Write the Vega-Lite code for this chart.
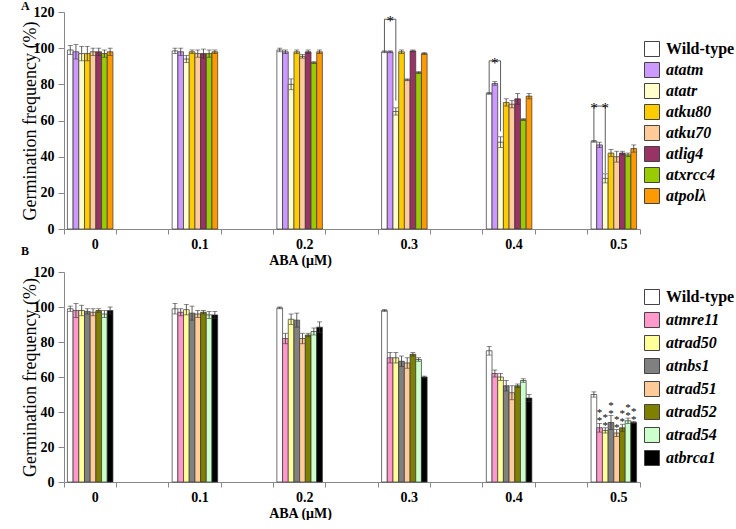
{
  "$schema": "https://vega.github.io/schema/vega-lite/v6.json",
  "padding": {"left": 21, "top": 0, "right": 0, "bottom": 0},
  "background": "white",
  "config": {
    "view": {"stroke": null},
    "font": "Liberation Serif",
    "axis": {"domainColor": "#888", "tickColor": "#888", "grid": false, "labelFont": "Liberation Serif", "labelFontWeight": "bold", "labelFontSize": 14, "labelColor": "black", "titleFont": "Liberation Serif", "titleColor": "black"},
    "axisY": {"labelOverlap": false, "tickCount": 7},
    "legend": {"labelFont": "Liberation Serif", "labelFontWeight": "bold", "labelFontSize": 16, "labelColor": "black"}
  },
  "datasets": {
    "a": [
      {"aba": "0", "geno": "Wild-type", "v": 99, "e": 2.5},
      {"aba": "0", "geno": "atatm", "v": 98, "e": 4},
      {"aba": "0", "geno": "atatr", "v": 97, "e": 4},
      {"aba": "0", "geno": "atku80", "v": 97, "e": 4},
      {"aba": "0", "geno": "atku70", "v": 98, "e": 2},
      {"aba": "0", "geno": "atlig4", "v": 98, "e": 2},
      {"aba": "0", "geno": "atxrcc4", "v": 97, "e": 2},
      {"aba": "0", "geno": "atpolλ", "v": 98, "e": 2},
      {"aba": "0.1", "geno": "Wild-type", "v": 98.5, "e": 1.5},
      {"aba": "0.1", "geno": "atatm", "v": 98, "e": 2},
      {"aba": "0.1", "geno": "atatr", "v": 94, "e": 2},
      {"aba": "0.1", "geno": "atku80", "v": 98, "e": 1},
      {"aba": "0.1", "geno": "atku70", "v": 97, "e": 2},
      {"aba": "0.1", "geno": "atlig4", "v": 97, "e": 2.5},
      {"aba": "0.1", "geno": "atxrcc4", "v": 97, "e": 2},
      {"aba": "0.1", "geno": "atpolλ", "v": 98, "e": 1},
      {"aba": "0.2", "geno": "Wild-type", "v": 99, "e": 1},
      {"aba": "0.2", "geno": "atatm", "v": 98, "e": 1},
      {"aba": "0.2", "geno": "atatr", "v": 80, "e": 3},
      {"aba": "0.2", "geno": "atku80", "v": 98, "e": 1},
      {"aba": "0.2", "geno": "atku70", "v": 95.5, "e": 1},
      {"aba": "0.2", "geno": "atlig4", "v": 98, "e": 1},
      {"aba": "0.2", "geno": "atxrcc4", "v": 92, "e": 0.5},
      {"aba": "0.2", "geno": "atpolλ", "v": 98, "e": 1},
      {"aba": "0.3", "geno": "Wild-type", "v": 98, "e": 0.5},
      {"aba": "0.3", "geno": "atatm", "v": 98, "e": 0.5},
      {"aba": "0.3", "geno": "atatr", "v": 65, "e": 2},
      {"aba": "0.3", "geno": "atku80", "v": 98, "e": 1},
      {"aba": "0.3", "geno": "atku70", "v": 82.5, "e": 0.5},
      {"aba": "0.3", "geno": "atlig4", "v": 98.5, "e": 0.5},
      {"aba": "0.3", "geno": "atxrcc4", "v": 86.5, "e": 0.5},
      {"aba": "0.3", "geno": "atpolλ", "v": 97, "e": 0.5},
      {"aba": "0.4", "geno": "Wild-type", "v": 75, "e": 0.5},
      {"aba": "0.4", "geno": "atatm", "v": 80.5, "e": 1},
      {"aba": "0.4", "geno": "atatr", "v": 48, "e": 3},
      {"aba": "0.4", "geno": "atku80", "v": 70, "e": 2},
      {"aba": "0.4", "geno": "atku70", "v": 69, "e": 2},
      {"aba": "0.4", "geno": "atlig4", "v": 72, "e": 3},
      {"aba": "0.4", "geno": "atxrcc4", "v": 60.5, "e": 0.5},
      {"aba": "0.4", "geno": "atpolλ", "v": 73.5, "e": 1.5},
      {"aba": "0.5", "geno": "Wild-type", "v": 48.5, "e": 0.5},
      {"aba": "0.5", "geno": "atatm", "v": 46.5, "e": 1.5},
      {"aba": "0.5", "geno": "atatr", "v": 28, "e": 2.5},
      {"aba": "0.5", "geno": "atku80", "v": 42, "e": 2},
      {"aba": "0.5", "geno": "atku70", "v": 40, "e": 3},
      {"aba": "0.5", "geno": "atlig4", "v": 42, "e": 1},
      {"aba": "0.5", "geno": "atxrcc4", "v": 41, "e": 1},
      {"aba": "0.5", "geno": "atpolλ", "v": 44.5, "e": 2}
    ],
    "b": [
      {"aba": "0", "geno": "Wild-type", "v": 99, "e": 1.5, "sig": ""},
      {"aba": "0", "geno": "atmre11", "v": 98, "e": 4, "sig": ""},
      {"aba": "0", "geno": "atrad50", "v": 98, "e": 3, "sig": ""},
      {"aba": "0", "geno": "atnbs1", "v": 97.5, "e": 1.5, "sig": ""},
      {"aba": "0", "geno": "atrad51", "v": 97, "e": 2, "sig": ""},
      {"aba": "0", "geno": "atrad52", "v": 98, "e": 1, "sig": ""},
      {"aba": "0", "geno": "atrad54", "v": 96, "e": 2, "sig": ""},
      {"aba": "0", "geno": "atbrca1", "v": 98, "e": 2, "sig": ""},
      {"aba": "0.1", "geno": "Wild-type", "v": 99, "e": 3, "sig": ""},
      {"aba": "0.1", "geno": "atmre11", "v": 97, "e": 2, "sig": ""},
      {"aba": "0.1", "geno": "atrad50", "v": 98.5, "e": 3, "sig": ""},
      {"aba": "0.1", "geno": "atnbs1", "v": 96.5, "e": 4, "sig": ""},
      {"aba": "0.1", "geno": "atrad51", "v": 96, "e": 2, "sig": ""},
      {"aba": "0.1", "geno": "atrad52", "v": 97, "e": 1, "sig": ""},
      {"aba": "0.1", "geno": "atrad54", "v": 95.5, "e": 2, "sig": ""},
      {"aba": "0.1", "geno": "atbrca1", "v": 95.5, "e": 2, "sig": ""},
      {"aba": "0.2", "geno": "Wild-type", "v": 99.5, "e": 0.5, "sig": ""},
      {"aba": "0.2", "geno": "atmre11", "v": 82, "e": 3, "sig": ""},
      {"aba": "0.2", "geno": "atrad50", "v": 93, "e": 3, "sig": ""},
      {"aba": "0.2", "geno": "atnbs1", "v": 92.5, "e": 4, "sig": ""},
      {"aba": "0.2", "geno": "atrad51", "v": 82, "e": 3, "sig": ""},
      {"aba": "0.2", "geno": "atrad52", "v": 84, "e": 1, "sig": ""},
      {"aba": "0.2", "geno": "atrad54", "v": 86, "e": 2, "sig": ""},
      {"aba": "0.2", "geno": "atbrca1", "v": 88.5, "e": 3, "sig": ""},
      {"aba": "0.3", "geno": "Wild-type", "v": 98, "e": 0.5, "sig": ""},
      {"aba": "0.3", "geno": "atmre11", "v": 71, "e": 3, "sig": ""},
      {"aba": "0.3", "geno": "atrad50", "v": 71, "e": 3, "sig": ""},
      {"aba": "0.3", "geno": "atnbs1", "v": 69, "e": 3, "sig": ""},
      {"aba": "0.3", "geno": "atrad51", "v": 68, "e": 3, "sig": ""},
      {"aba": "0.3", "geno": "atrad52", "v": 73, "e": 1, "sig": ""},
      {"aba": "0.3", "geno": "atrad54", "v": 70, "e": 1, "sig": ""},
      {"aba": "0.3", "geno": "atbrca1", "v": 60, "e": 0.5, "sig": ""},
      {"aba": "0.4", "geno": "Wild-type", "v": 75, "e": 2.5, "sig": ""},
      {"aba": "0.4", "geno": "atmre11", "v": 62, "e": 2, "sig": ""},
      {"aba": "0.4", "geno": "atrad50", "v": 60, "e": 2, "sig": ""},
      {"aba": "0.4", "geno": "atnbs1", "v": 55, "e": 3, "sig": ""},
      {"aba": "0.4", "geno": "atrad51", "v": 51, "e": 4, "sig": ""},
      {"aba": "0.4", "geno": "atrad52", "v": 55, "e": 1, "sig": ""},
      {"aba": "0.4", "geno": "atrad54", "v": 58, "e": 1, "sig": ""},
      {"aba": "0.4", "geno": "atbrca1", "v": 48, "e": 2, "sig": ""},
      {"aba": "0.5", "geno": "Wild-type", "v": 50, "e": 1.5, "sig": ""},
      {"aba": "0.5", "geno": "atmre11", "v": 31, "e": 2.5, "sig": "*"},
      {"aba": "0.5", "geno": "atrad50", "v": 29.5, "e": 1.5, "sig": "*"},
      {"aba": "0.5", "geno": "atnbs1", "v": 34, "e": 4, "sig": "*"},
      {"aba": "0.5", "geno": "atrad51", "v": 28, "e": 2, "sig": "*"},
      {"aba": "0.5", "geno": "atrad52", "v": 31, "e": 2, "sig": "*"},
      {"aba": "0.5", "geno": "atrad54", "v": 35, "e": 1.5, "sig": "*"},
      {"aba": "0.5", "geno": "atbrca1", "v": 34, "e": 0.5, "sig": "*"}
    ],
    "brA": [
      {"k": "b1", "o": 1, "aba": "0.3", "geno": "Wild-type", "y": 98.5},
      {"k": "b1", "o": 2, "aba": "0.3", "geno": "Wild-type", "y": 116},
      {"k": "b1", "o": 3, "aba": "0.3", "geno": "atatr", "y": 116},
      {"k": "b1", "o": 4, "aba": "0.3", "geno": "atatr", "y": 71},
      {"k": "b2", "o": 1, "aba": "0.4", "geno": "Wild-type", "y": 75.5},
      {"k": "b2", "o": 2, "aba": "0.4", "geno": "Wild-type", "y": 93},
      {"k": "b2", "o": 3, "aba": "0.4", "geno": "atatr", "y": 93},
      {"k": "b2", "o": 4, "aba": "0.4", "geno": "atatr", "y": 54},
      {"k": "b3", "o": 1, "aba": "0.5", "geno": "Wild-type", "y": 49},
      {"k": "b3", "o": 2, "aba": "0.5", "geno": "Wild-type", "y": 68},
      {"k": "b3", "o": 3, "aba": "0.5", "geno": "atatr", "y": 68},
      {"k": "b3", "o": 4, "aba": "0.5", "geno": "atatr", "y": 31}
    ],
    "stA": [
      {"aba": "0.3", "geno": "atatm", "y": 116, "t": "*"},
      {"aba": "0.4", "geno": "atatm", "y": 93, "t": "*"},
      {"aba": "0.5", "geno": "atatm", "y": 68, "t": "* *"}
    ]
  },
  "vconcat": [
    {
      "width": 576,
      "height": 217,
      "title": {"text": "A", "anchor": "start", "frame": "bounds", "baseline": "top", "offset": -8, "fontSize": 12, "font": "Liberation Serif", "fontWeight": "bold", "color": "black"},
      "layer": [
        {
          "data": {"name": "a"},
          "mark": {"type": "bar", "stroke": "#333", "strokeWidth": 0.7},
          "encoding": {
            "x": {"field": "aba", "type": "nominal", "sort": null,
              "scale": {"domain": ["0", "0.1", "0.2", "0.3", "0.4", "0.5"], "paddingInner": 0.5, "paddingOuter": 0},
              "axis": {"orient": "bottom", "bandPosition": 0, "labelOffset": 5, "labelAngle": 0, "labelPadding": 3, "tickSize": 5, "title": "ABA (μM)", "titleX": 236, "titlePadding": 2, "titleFontSize": 14, "titleFontWeight": "bold"}},
            "xOffset": {"field": "geno", "type": "nominal", "sort": null,
              "scale": {"domain": ["Wild-type", "atatm", "atatr", "atku80", "atku70", "atlig4", "atxrcc4", "atpolλ"], "paddingInner": 0, "paddingOuter": 0.6}},
            "y": {"field": "v", "type": "quantitative",
              "scale": {"domain": [0, 120]},
              "axis": {"values": [0, 20, 40, 60, 80, 100, 120], "labelOverlap": false, "tickSize": 6, "labelPadding": 4, "title": "Germination frequency (%)", "titleFontSize": 18, "titleFontWeight": "normal", "titlePadding": -6}},
            "color": {"field": "geno", "type": "nominal", "sort": null,
              "scale": {"domain": ["Wild-type", "atatm", "atatr", "atku80", "atku70", "atlig4", "atxrcc4", "atpolλ"], "range": ["#ffffff", "#cc99ff", "#ffffcc", "#ffcc00", "#ffcc99", "#993366", "#99cc00", "#ff9900"]},
              "legend": {"title": null, "orient": "none", "legendX": 580, "legendY": 29, "padding": 0, "symbolType": "square", "symbolSize": 225, "symbolStrokeColor": "#444", "symbolStrokeWidth": 1, "symbolOpacity": 1, "rowPadding": 1, "labelOffset": 6,
                "encode": {"labels": {"update": {"fontStyle": {"signal": "datum.value === 'Wild-type' ? 'normal' : 'italic'"}}}}}}
          }
        },
        {
          "data": {"name": "a"},
          "transform": [{"calculate": "datum.v - datum.e", "as": "lo"}, {"calculate": "datum.v + datum.e", "as": "hi"}],
          "mark": {"type": "rule", "color": "#333", "strokeWidth": 0.8},
          "encoding": {
            "x": {"field": "aba", "type": "nominal", "sort": null,
              "axis": {"orient": "bottom", "bandPosition": 1, "labels": false, "domain": false, "tickSize": 5, "title": null}},
            "xOffset": {"field": "geno", "type": "nominal", "sort": null},
            "y": {"field": "lo", "type": "quantitative", "axis": {"values": [0, 20, 40, 60, 80, 100, 120], "labelOverlap": false}},
            "y2": {"field": "hi"}
          }
        },
        {
          "data": {"name": "a"},
          "transform": [{"calculate": "datum.v - datum.e", "as": "lo"}],
          "mark": {"type": "tick", "color": "#333", "size": 5, "thickness": 0.8},
          "encoding": {
            "x": {"field": "aba", "type": "nominal", "sort": null, "axis": null},
            "xOffset": {"field": "geno", "type": "nominal", "sort": null},
            "y": {"field": "lo", "type": "quantitative", "axis": {"values": [0, 20, 40, 60, 80, 100, 120], "labelOverlap": false}}
          }
        },
        {
          "data": {"name": "a"},
          "transform": [{"calculate": "datum.v + datum.e", "as": "hi"}],
          "mark": {"type": "tick", "color": "#333", "size": 5, "thickness": 0.8},
          "encoding": {
            "x": {"field": "aba", "type": "nominal", "sort": null, "axis": null},
            "xOffset": {"field": "geno", "type": "nominal", "sort": null},
            "y": {"field": "hi", "type": "quantitative", "axis": {"values": [0, 20, 40, 60, 80, 100, 120], "labelOverlap": false}}
          }
        },
        {
          "data": {"name": "brA"},
          "mark": {"type": "line", "color": "#333", "strokeWidth": 0.8},
          "encoding": {
            "x": {"field": "aba", "type": "nominal", "sort": null, "axis": null},
            "xOffset": {"field": "geno", "type": "nominal", "sort": null},
            "y": {"field": "y", "type": "quantitative", "axis": {"values": [0, 20, 40, 60, 80, 100, 120], "labelOverlap": false}},
            "detail": {"field": "k"},
            "order": {"field": "o"}
          }
        },
        {
          "data": {"name": "stA"},
          "mark": {"type": "text", "color": "black", "font": "Liberation Serif", "fontSize": 15, "baseline": "alphabetic", "dy": 7},
          "encoding": {
            "x": {"field": "aba", "type": "nominal", "sort": null, "axis": null},
            "xOffset": {"field": "geno", "type": "nominal", "sort": null},
            "y": {"field": "y", "type": "quantitative", "axis": {"values": [0, 20, 40, 60, 80, 100, 120], "labelOverlap": false}},
            "text": {"field": "t"}
          }
        }
      ],
      "resolve": {"axis": {"x": "independent"}}
    },
    {
      "width": 576,
      "height": 210,
      "title": {"text": "B", "anchor": "start", "frame": "bounds", "baseline": "top", "offset": 7, "fontSize": 12, "font": "Liberation Serif", "fontWeight": "bold", "color": "black"},
      "layer": [
        {
          "data": {"name": "b"},
          "mark": {"type": "bar", "stroke": "#333", "strokeWidth": 0.7},
          "encoding": {
            "x": {"field": "aba", "type": "nominal", "sort": null,
              "scale": {"domain": ["0", "0.1", "0.2", "0.3", "0.4", "0.5"], "paddingInner": 0.5, "paddingOuter": 0},
              "axis": {"orient": "bottom", "bandPosition": 0, "labelOffset": 5, "labelAngle": 0, "labelPadding": 3, "tickSize": 5, "title": "ABA (μM)", "titleX": 236, "titlePadding": 2, "titleFontSize": 14, "titleFontWeight": "bold"}},
            "xOffset": {"field": "geno", "type": "nominal", "sort": null,
              "scale": {"domain": ["Wild-type", "atmre11", "atrad50", "atnbs1", "atrad51", "atrad52", "atrad54", "atbrca1"], "paddingInner": 0, "paddingOuter": 0.6}},
            "y": {"field": "v", "type": "quantitative",
              "scale": {"domain": [0, 120]},
              "axis": {"values": [0, 20, 40, 60, 80, 100, 120], "labelOverlap": false, "tickSize": 6, "labelPadding": 4, "title": "Germination frequency (%)", "titleFontSize": 18, "titleFontWeight": "normal", "titlePadding": -6}},
            "color": {"field": "geno", "type": "nominal", "sort": null,
              "scale": {"domain": ["Wild-type", "atmre11", "atrad50", "atnbs1", "atrad51", "atrad52", "atrad54", "atbrca1"], "range": ["#ffffff", "#ff99cc", "#ffff99", "#808080", "#ffcc99", "#808000", "#ccffcc", "#000000"]},
              "legend": {"title": null, "orient": "none", "legendX": 580, "legendY": 17, "padding": 0, "symbolType": "square", "symbolSize": 225, "symbolStrokeColor": "#444", "symbolStrokeWidth": 1, "symbolOpacity": 1, "rowPadding": 3, "labelOffset": 6,
                "encode": {"labels": {"update": {"fontStyle": {"signal": "datum.value === 'Wild-type' ? 'normal' : 'italic'"}}}}}}
          }
        },
        {
          "data": {"name": "b"},
          "transform": [{"calculate": "datum.v - datum.e", "as": "lo"}, {"calculate": "datum.v + datum.e", "as": "hi"}],
          "mark": {"type": "rule", "color": "#333", "strokeWidth": 0.8},
          "encoding": {
            "x": {"field": "aba", "type": "nominal", "sort": null,
              "axis": {"orient": "bottom", "bandPosition": 1, "labels": false, "domain": false, "tickSize": 5, "title": null}},
            "xOffset": {"field": "geno", "type": "nominal", "sort": null},
            "y": {"field": "lo", "type": "quantitative", "axis": {"values": [0, 20, 40, 60, 80, 100, 120], "labelOverlap": false}},
            "y2": {"field": "hi"}
          }
        },
        {
          "data": {"name": "b"},
          "transform": [{"calculate": "datum.v - datum.e", "as": "lo"}],
          "mark": {"type": "tick", "color": "#333", "size": 5, "thickness": 0.8},
          "encoding": {
            "x": {"field": "aba", "type": "nominal", "sort": null, "axis": null},
            "xOffset": {"field": "geno", "type": "nominal", "sort": null},
            "y": {"field": "lo", "type": "quantitative", "axis": {"values": [0, 20, 40, 60, 80, 100, 120], "labelOverlap": false}}
          }
        },
        {
          "data": {"name": "b"},
          "transform": [{"calculate": "datum.v + datum.e", "as": "hi"}],
          "mark": {"type": "tick", "color": "#333", "size": 5, "thickness": 0.8},
          "encoding": {
            "x": {"field": "aba", "type": "nominal", "sort": null, "axis": null},
            "xOffset": {"field": "geno", "type": "nominal", "sort": null},
            "y": {"field": "hi", "type": "quantitative", "axis": {"values": [0, 20, 40, 60, 80, 100, 120], "labelOverlap": false}}
          }
        },
        {
          "data": {"name": "b"},
          "transform": [{"filter": "datum.sig !== ''"}, {"calculate": "datum.v + datum.e", "as": "hi"}],
          "mark": {"type": "text", "color": "black", "font": "Liberation Serif", "fontSize": 11, "baseline": "alphabetic", "dy": 1},
          "encoding": {
            "x": {"field": "aba", "type": "nominal", "sort": null, "axis": null},
            "xOffset": {"field": "geno", "type": "nominal", "sort": null},
            "y": {"field": "hi", "type": "quantitative", "axis": {"values": [0, 20, 40, 60, 80, 100, 120], "labelOverlap": false}},
            "text": {"field": "sig"}
          }
        },
        {
          "data": {"name": "b"},
          "transform": [{"filter": "datum.sig !== ''"}, {"calculate": "datum.v + datum.e", "as": "hi"}],
          "mark": {"type": "text", "color": "black", "font": "Liberation Serif", "fontSize": 11, "baseline": "alphabetic", "dy": -7},
          "encoding": {
            "x": {"field": "aba", "type": "nominal", "sort": null, "axis": null},
            "xOffset": {"field": "geno", "type": "nominal", "sort": null},
            "y": {"field": "hi", "type": "quantitative", "axis": {"values": [0, 20, 40, 60, 80, 100, 120], "labelOverlap": false}},
            "text": {"field": "sig"}
          }
        }
      ],
      "resolve": {"axis": {"x": "independent"}}
    }
  ],
  "bounds": "flush",
  "spacing": 43,
  "resolve": {"scale": {"color": "independent", "xOffset": "independent"}, "legend": {"color": "independent"}}
}
